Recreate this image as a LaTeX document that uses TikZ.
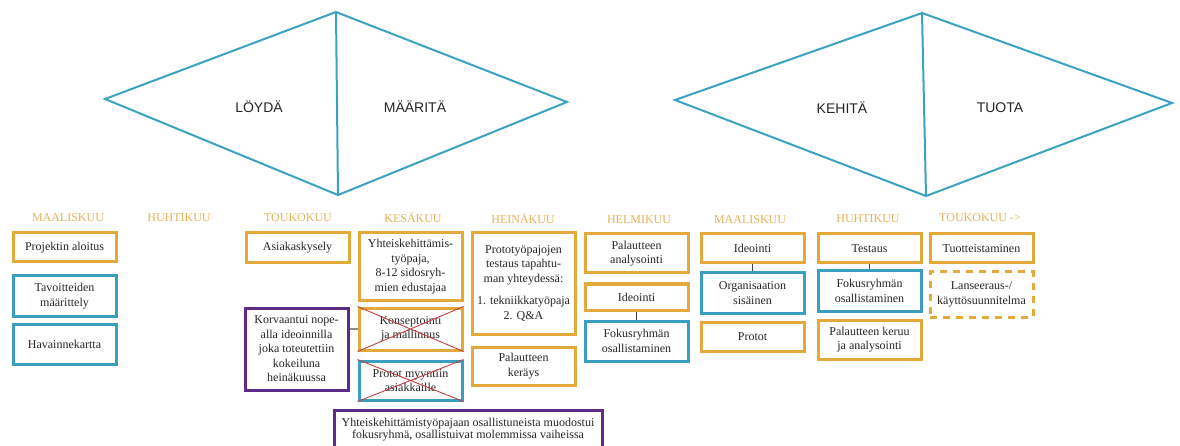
\documentclass[tikz,border=0pt]{standalone}
\usepackage{fontspec}
\setmainfont{Liberation Serif}
\newfontfamily\phasefont{Liberation Sans}
\definecolor{gold}{HTML}{E3A93B}
\definecolor{goldtext}{HTML}{E5B35C}
\definecolor{teal}{HTML}{3A9FBE}
\definecolor{plum}{HTML}{5C2B86}
\definecolor{crossred}{HTML}{C2403F}
\definecolor{diamondblue}{HTML}{3BA3C1}
\tikzset{
  month/.style={text=goldtext, font=\fontsize{12}{14}\selectfont, inner sep=0pt},
  card/.style={draw, line width=3pt, align=center, inner sep=1pt,
    font=\fontsize{12}{14.5}\selectfont, text=black!85},
  obox/.style={card, draw=gold},
  bbox/.style={card, draw=teal},
  pbox/.style={card, draw=plum},
  dbox/.style={card, draw=gold, dashed, dash pattern=on 7pt off 6pt},
  phase/.style={font=\phasefont\fontsize{14}{16}\selectfont, text=black!85},
  diamond line/.style={draw=diamondblue, line width=2pt, line join=miter},
  link/.style={draw=black!75, line width=1.2pt},
  strike/.style={draw=crossred, line width=0.9pt},
}
% box from corner (x1,y1) to corner (x2,y2)
\newcommand\cardbox[7]{%
  \node[#2, minimum width={(#5-#3)*1pt}, minimum height={(#6-#4)*1pt}]
    (#1) at ({(#3+#5)/2},{(#4+#6)/2}) {#7};}
\begin{document}
\begin{tikzpicture}[x=1pt,y=-1pt]
\path[use as bounding box, clip] (0,0) rectangle (1180,446);
\fill[white] (0,0) rectangle (1180,446);

% phase diamonds
\coordinate (d1l) at (105,99);
\coordinate (d1t) at (336,12);
\coordinate (d1b) at (338,195);
\coordinate (d1r) at (567,102);
\draw[diamond line] (d1l) -- (d1t) -- (d1r) -- (d1b) -- cycle;
\draw[diamond line] (d1t) -- (d1b);
\node[phase] (loyda) at (259,107) {LÖYDÄ};
\node[phase] (maarita) at (415,107) {MÄÄRITÄ};

\coordinate (d2l) at (675,100);
\coordinate (d2t) at (922,13);
\coordinate (d2b) at (926,196);
\coordinate (d2r) at (1172,103);
\draw[diamond line] (d2l) -- (d2t) -- (d2r) -- (d2b) -- cycle;
\draw[diamond line] (d2t) -- (d2b);
\node[phase] (kehita) at (842,108) {KEHITÄ};
\node[phase] (tuota) at (1000,108) {TUOTA};

% month headings
\node[month] (m1) at (68,218) {MAALISKUU};
\node[month] (m2) at (179,218) {HUHTIKUU};
\node[month] (m3) at (298,218) {TOUKOKUU};
\node[month] (m4) at (413,218) {KESÄKUU};
\node[month] (m5) at (523,219) {HEINÄKUU};
\node[month] (m6) at (639,220) {HELMIKUU};
\node[month] (m7) at (750,220) {MAALISKUU};
\node[month] (m8) at (868,219) {HUHTIKUU};
\node[month] (m9) at (980,218) {TOUKOKUU ->};

% March
\cardbox{a1}{obox}{13}{233}{116}{262}{Projektin aloitus}
\cardbox{a2}{bbox}{13}{276}{116}{316}{Tavoitteiden\\määrittely}
\cardbox{a3}{bbox}{13}{324}{116}{364}{Havainnekartta}

% May
\cardbox{c1}{obox}{246}{233}{349}{263}{Asiakaskysely}
\cardbox{c2}{pbox}{245}{308}{348}{390}{Korvaantui nope-\\alla ideoinnilla\\joka toteutettiin\\kokeiluna\\heinäkuussa}

% June
\cardbox{k1}{obox}{359}{233}{462}{300}{Yhteiskehittämis-\\työpaja,\\8-12 sidosryh-\\mien edustajaa}
\cardbox{k2}{obox}{359}{308}{462}{350}{Konseptointi\\ja mallinnus}
\cardbox{k3}{bbox}{359}{361}{462}{400}{Protot myyntiin\\asiakkaille}
\draw[strike] (k2.north west) -- (k2.south east) (k2.south west) -- (k2.north east);
\draw[strike] (k3.north west) -- (k3.south east) (k3.south west) -- (k3.north east);
\draw[draw=black!45, line width=2.6pt] (c2.east |- k2) -- (k2.west);

\cardbox{fg}{pbox, font=\fontsize{12}{12.5}\selectfont}{334}{410}{602}{449}{Yhteiskehittämistyöpajaan osallistuneista muodostui\\fokusryhmä, osallistuivat molemmissa vaiheissa}

% July
\cardbox{h1}{obox}{472}{233}{575}{334}{Prototyöpajojen\\testaus tapahtu-\\man yhteydessä:\\[8pt]1. tekniikkatyöpaja\\2. Q\&A}
\cardbox{h2}{obox}{472}{347}{575}{385}{Palautteen\\keräys}

% February
\cardbox{f1}{obox}{585}{234}{688}{273}{Palautteen\\analysointi}
\cardbox{f2}{obox}{585}{284}{688}{310}{Ideointi}
\cardbox{f3}{bbox}{585}{321}{688}{361}{Fokusryhmän\\osallistaminen}
\draw[link] (f2) -- (f3);

% March (second year)
\cardbox{s1}{obox}{701}{234}{804}{263}{Ideointi}
\cardbox{s2}{bbox}{701}{273}{804}{313}{Organisaation\\sisäinen}
\cardbox{s3}{obox}{701}{322}{804}{351}{Protot}
\draw[link] (s1) -- (s2);

% April (second year)
\cardbox{t1}{obox}{818}{234}{921}{263}{Testaus}
\cardbox{t2}{bbox}{818}{271}{921}{311}{Fokusryhmän\\osallistaminen}
\cardbox{t3}{obox}{818}{320}{921}{359}{Palautteen keruu\\ja analysointi}
\draw[link] (t1) -- (t2);

% May onwards
\cardbox{u1}{obox}{930}{234}{1033}{263}{Tuotteistaminen}
\cardbox{u2}{dbox}{930}{272}{1033}{317}{Lanseeraus-/\\käyttösuunnitelma}
\end{tikzpicture}
\end{document}
